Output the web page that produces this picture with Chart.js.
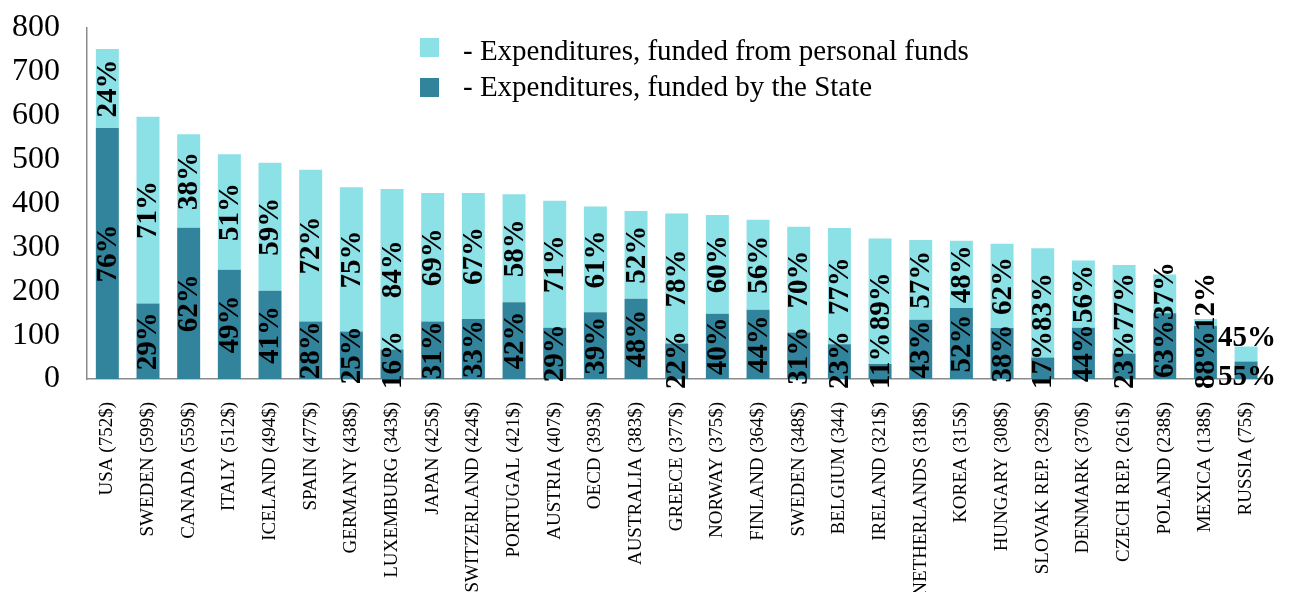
<!DOCTYPE html>
<html>
<head>
<meta charset="utf-8">
<script src="https://cdn.jsdelivr.net/npm/chart.js"></script>
<style>
html, body { margin: 0; padding: 0; background: #fff; overflow: hidden; }
#wrap { position: relative; width: 1292px; height: 592px; }
</style>
</head>
<body>
<div id="wrap"><canvas id="myChart"></canvas></div>
<script>
// categories (x axis)
const countries = ['USA (752$)', 'SWEDEN (599$)', 'CANADA (559$)', 'ITALY (512$)', 'ICELAND (494$)',
    'SPAIN (477$)', 'GERMANY (438$)', 'LUXEMBURG (343$)', 'JAPAN (425$)', 'SWITZERLAND (424$)',
    'PORTUGAL (421$)', 'AUSTRIA (407$)', 'OECD (393$)', 'AUSTRALIA (383$)', 'GREECE (377$)',
    'NORWAY (375$)', 'FINLAND (364$)', 'SWEDEN (348$)', 'BELGIUM (344)', 'IRELAND (321$)',
    'NETHERLANDS (318$)', 'KOREA (315$)', 'HUNGARY (308$)', 'SLOVAK REP. (329$)', 'DENMARK (370$)',
    'CZECH REP. (261$)', 'POLAND (238$)', 'MEXICA (138$)', 'RUSSIA (75$)'];

// funded by the State (bottom of stack)
const stateFunds = [572, 172, 345, 249, 201, 131, 108, 67, 131, 137,
    175, 117, 152, 183, 81, 149, 158, 106, 79, 34,
    135, 162, 116, 49, 117, 58, 150, 121, 40];

// funded from personal funds (top of stack)
const personalFunds = [180, 426, 213, 263, 292, 346, 329, 366, 293, 287,
    246, 289, 241, 200, 296, 225, 205, 241, 265, 286,
    182, 153, 192, 249, 153, 202, 88, 16, 34];

// percent labels as printed on the bars
const statePct = [76, 29, 62, 49, 41, 28, 25, 16, 31, 33, 42, 29, 39, 48, 22,
    40, 44, 31, 23, 11, 43, 52, 38, 17, 44, 23, 63, 88, 55];
const personalPct = [24, 71, 38, 51, 59, 72, 75, 84, 69, 67, 58, 71, 61, 52, 78,
    60, 56, 70, 77, 89, 57, 48, 62, 83, 56, 77, 37, 12, 45];

const yMax = 800;
const yStep = 100;

const serif = "'Liberation Serif', 'Times New Roman', serif";
const lightCol = '#8CE1E6';
const darkCol = '#31849B';

// 퍼센트 라벨 (막대 안쪽, 세로로)
const pctLabels = {
    id: 'pctLabels',
    afterDatasetsDraw(chart) {
        const ctx = chart.ctx;
        const bottomLimit = chart.chartArea.bottom + 10;
        const stMeta = chart.getDatasetMeta(0).data;
        const prMeta = chart.getDatasetMeta(1).data;
        const fs = 29;
        ctx.save();
        ctx.fillStyle = '#000';
        ctx.font = 'bold ' + fs + 'px ' + serif;
        stMeta.forEach(function (st, i) {
            const pr = prMeta[i];
            const tS = statePct[i] + '%';
            const tP = personalPct[i] + '%';
            let cs = (st.y + st.base) / 2;
            let cp = (pr.y + pr.base) / 2;
            const horizontal = (i === stMeta.length - 1);
            if (horizontal) {
                const need = fs * 1.35;
                if (cs - cp < need) { const d = need - (cs - cp); cs += d / 2; cp -= d / 2; }
                cs = Math.min(cs, bottomLimit - fs * 0.4);
                cp = Math.min(cp, cs - need);
                ctx.textAlign = 'center';
                ctx.textBaseline = 'middle';
                ctx.fillText(tS, st.x + 1, cs);
                ctx.fillText(tP, pr.x + 1, cp);
                return;
            }
            const wS = ctx.measureText(tS).width;
            const wP = ctx.measureText(tP).width;
            const need = (wS + wP) / 2;
            if (cs - cp < need) { const d = need - (cs - cp); cs += d / 2; cp -= d / 2; }
            cs = Math.min(cs, bottomLimit - wS / 2);
            cp = Math.min(cp, cs - need);
            [[tS, st.x, cs], [tP, pr.x, cp]].forEach(function (a) {
                ctx.save();
                ctx.translate(a[1] + 1, a[2]);
                ctx.rotate(-Math.PI / 2);
                ctx.textAlign = 'center';
                ctx.textBaseline = 'middle';
                ctx.fillText(a[0], 0, 0);
                ctx.restore();
            });
        });
        ctx.restore();
    }
};

// 범례 (세로 두 줄, 차트 안쪽 위)
const boxLegend = {
    id: 'boxLegend',
    afterDraw(chart) {
        const ctx = chart.ctx;
        const ds = chart.data.datasets.slice().reverse();
        ctx.save();
        ctx.font = '29px ' + serif;
        ctx.fillStyle = '#000';
        ctx.textBaseline = 'alphabetic';
        ds.forEach(function (d, k) {
            const top = 38 + k * 40;
            ctx.fillStyle = d.backgroundColor;
            ctx.fillRect(420, top, 19, 19);
            ctx.fillStyle = '#000';
            ctx.fillText(d.label, 463, top + 22 - k * 4);
        });
        ctx.restore();
    }
};

const ctx = document.getElementById('myChart').getContext('2d');
const myChart = new Chart(ctx, {
    type: 'bar',
    data: {
        labels: countries,
        datasets: [{
            label: '- Expenditures, funded by the State',
            data: stateFunds,
            backgroundColor: darkCol,
            borderWidth: 0,
            categoryPercentage: 1,
            barPercentage: 0.565
        }, {
            label: '- Expenditures, funded from personal funds',
            data: personalFunds,
            backgroundColor: lightCol,
            borderWidth: 0,
            categoryPercentage: 1,
            barPercentage: 0.565
        }]
    },
    options: {
        responsive: true,
        maintainAspectRatio: false,
        animation: false,
        layout: { padding: { top: 28, right: 7, left: 0, bottom: 0 } },
        scales: {
            x: {
                stacked: true,
                grid: { display: false, drawTicks: false },
                border: { display: true, color: '#8c8c8c', width: 1.5 },
                ticks: {
                    autoSkip: false,
                    minRotation: 90,
                    maxRotation: 90,
                    padding: 23,
                    color: '#000',
                    font: { family: serif, size: 19 }
                },
                afterFit: function (scale) { scale.height = 213; }
            },
            y: {
                stacked: true,
                min: 0,
                max: yMax,
                grid: { display: false, drawTicks: false },
                border: { display: true, color: '#8c8c8c', width: 1.5 },
                ticks: {
                    stepSize: yStep,
                    padding: 27,
                    color: '#000',
                    font: { family: serif, size: 32 }
                },
                afterFit: function (scale) {
                    scale.width = 87;
                    // tick padding would otherwise push the plot top down
                    scale.paddingTop = 0;
                    scale.paddingBottom = 0;
                }
            }
        },
        plugins: {
            legend: { display: false },
            tooltip: { enabled: false }
        }
    },
    plugins: [pctLabels, boxLegend]
});
</script>
</body>
</html>
